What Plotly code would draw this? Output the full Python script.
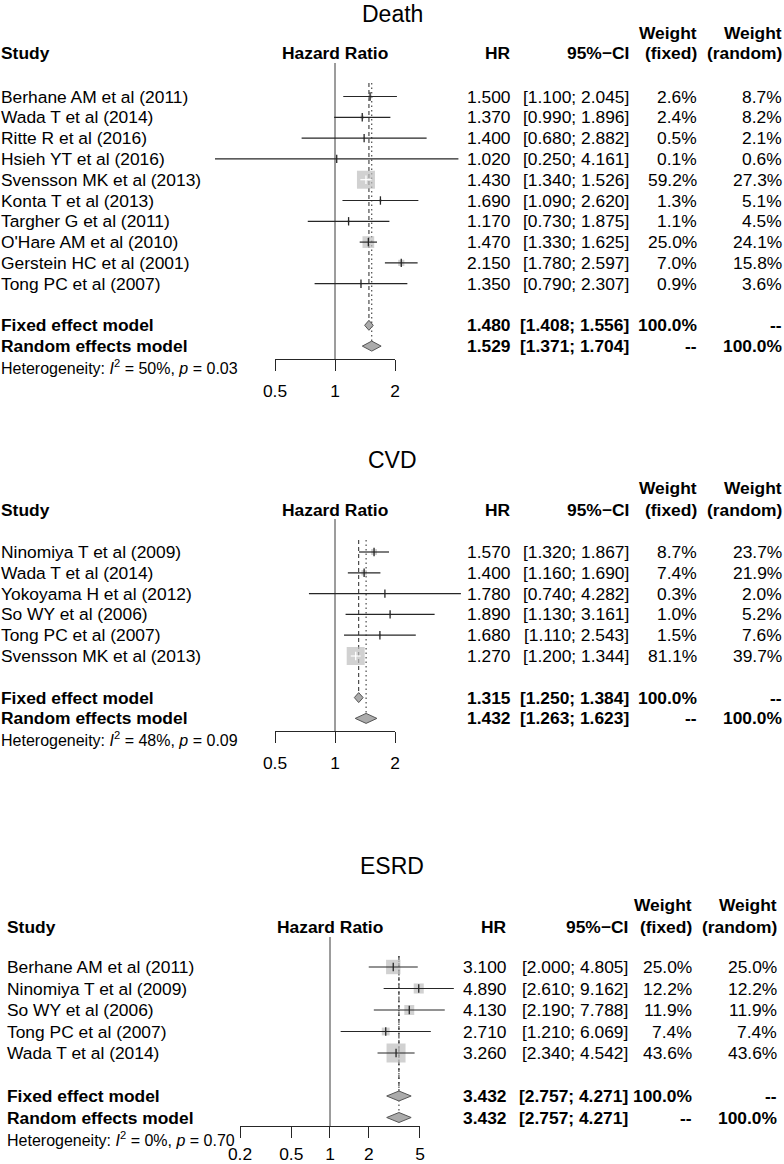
import numpy as np
import plotly.graph_objects as go

W, H = 784, 1164
FONT = "Liberation Sans, Arial, Helvetica, sans-serif"

# ---------------- data ----------------
death_studies = ["Berhane AM et al (2011)", "Wada T et al (2014)", "Ritte R et al (2016)",
                 "Hsieh YT et al (2016)", "Svensson MK et al (2013)", "Konta T et al (2013)",
                 "Targher G et al (2011)", "O'Hare AM et al (2010)", "Gerstein HC et al (2001)",
                 "Tong PC et al (2007)"]
death_hr = [1.500, 1.370, 1.400, 1.020, 1.430, 1.690, 1.170, 1.470, 2.150, 1.350]
death_lo = [1.100, 0.990, 0.680, 0.250, 1.340, 1.090, 0.730, 1.330, 1.780, 0.790]
death_hi = [2.045, 1.896, 2.882, 4.161, 1.526, 2.620, 1.875, 1.625, 2.597, 2.307]
death_wf = [2.6, 2.4, 0.5, 0.1, 59.2, 1.3, 1.1, 25.0, 7.0, 0.9]
death_wr = [8.7, 8.2, 2.1, 0.6, 27.3, 5.1, 4.5, 24.1, 15.8, 3.6]
death_fixed = [1.480, 1.408, 1.556]
death_random = [1.529, 1.371, 1.704]
death_het = ["50%", "0.03"]
death_ticks = [0.5, 1, 2]

cvd_studies = ["Ninomiya T et al (2009)", "Wada T et al (2014)", "Yokoyama H et al (2012)",
               "So WY et al (2006)", "Tong PC et al (2007)", "Svensson MK et al (2013)"]
cvd_hr = [1.570, 1.400, 1.780, 1.890, 1.680, 1.270]
cvd_lo = [1.320, 1.160, 0.740, 1.130, 1.110, 1.200]
cvd_hi = [1.867, 1.690, 4.282, 3.161, 2.543, 1.344]
cvd_wf = [8.7, 7.4, 0.3, 1.0, 1.5, 81.1]
cvd_wr = [23.7, 21.9, 2.0, 5.2, 7.6, 39.7]
cvd_fixed = [1.315, 1.250, 1.384]
cvd_random = [1.432, 1.263, 1.623]
cvd_het = ["48%", "0.09"]
cvd_ticks = [0.5, 1, 2]

esrd_studies = ["Berhane AM et al (2011)", "Ninomiya T et al (2009)", "So WY et al (2006)",
                "Tong PC et al (2007)", "Wada T et al (2014)"]
esrd_hr = [3.100, 4.890, 4.130, 2.710, 3.260]
esrd_lo = [2.000, 2.610, 2.190, 1.210, 2.340]
esrd_hi = [4.805, 9.162, 7.788, 6.069, 4.542]
esrd_wf = [25.0, 12.2, 11.9, 7.4, 43.6]
esrd_wr = [25.0, 12.2, 11.9, 7.4, 43.6]
esrd_fixed = [3.432, 2.757, 4.271]
esrd_random = [3.432, 2.757, 4.271]
esrd_het = ["0%", "0.70"]
esrd_ticks = [0.2, 0.5, 1, 2, 5]

# ---------------- layout of panels (pixels) ----------------
panels = [
    dict(title="Death", studies=death_studies, hr=death_hr, lo=death_lo, hi=death_hi,
         wf=death_wf, wr=death_wr, fixed=death_fixed, random=death_random, het=death_het,
         ticks=death_ticks,
         title_y=14, weight_y=33, header_y=53, row0=96.5, dy=20.8, null_top=63, line_top=83,
         axis_y=359, tick_standoff=5, null_px=335, per_log2=60, label_x=0,
         col_hr=512, col_ci=630, col_wf=698, col_wr=783, sq_max=18),
    dict(title="CVD", studies=cvd_studies, hr=cvd_hr, lo=cvd_lo, hi=cvd_hi,
         wf=cvd_wf, wr=cvd_wr, fixed=cvd_fixed, random=cvd_random, het=cvd_het,
         ticks=cvd_ticks,
         title_y=460, weight_y=488, header_y=510, row0=552, dy=20.8, null_top=519, line_top=540,
         axis_y=731, tick_standoff=5, null_px=335, per_log2=60, label_x=0,
         col_hr=512, col_ci=630, col_wf=698, col_wr=783, sq_max=18),
    dict(title="ESRD", studies=esrd_studies, hr=esrd_hr, lo=esrd_lo, hi=esrd_hi,
         wf=esrd_wf, wr=esrd_wr, fixed=esrd_fixed, random=esrd_random, het=esrd_het,
         ticks=esrd_ticks,
         title_y=866, weight_y=905, header_y=927, row0=967, dy=21.5, null_top=937, line_top=956,
         axis_y=1126, tick_standoff=1, null_px=330, per_log2=38.75, label_x=6,
         col_hr=508, col_ci=629, col_wf=693, col_wr=778, sq_max=19),
]

LINE = "#262626"
SQUARE = "#BEBEBE"
DIAMOND = "#ABABAB"
FS = 17.4

fig = go.Figure()
annotations = []
layout_axes = {}


def ann(x, y, text, anchor="left", size=FS, bold=False):
    annotations.append(dict(
        x=x, y=y, xref="x", yref="y", text=f"<b>{text}</b>" if bold else text,
        showarrow=False, xanchor=anchor, yanchor="middle", borderpad=0,
        font=dict(family=FONT, size=size, color="black")))


for k, P in enumerate(panels):
    xa = f"x{k + 2}"          # data axis (log), full width
    xt = f"x{k + 5}"          # tick axis (log), restricted domain
    per_log10 = P["per_log2"] / np.log10(2)
    r0 = -P["null_px"] / per_log10
    r1 = r0 + W / per_log10
    layout_axes[f"xaxis{k + 2}"] = dict(type="log", range=[r0, r1], domain=[0, 1],
                                        overlaying="x", anchor="y", visible=False,
                                        automargin=False)

    def px(v):
        return P["null_px"] + P["per_log2"] * np.log2(v)

    tmin, tmax = min(P["ticks"]), max(P["ticks"])
    eps = 1e-7
    layout_axes[f"xaxis{k + 5}"] = dict(
        type="log", range=[np.log10(tmin) - eps, np.log10(tmax) + eps],
        domain=[px(tmin) / W, px(tmax) / W], anchor="free", position=1 - P["axis_y"] / H,
        tickvals=P["ticks"], ticktext=[f"{t:g}" for t in P["ticks"]],
        ticks="outside", ticklen=11, tickwidth=1, tickcolor=LINE,
        showline=True, linecolor=LINE, linewidth=1, showgrid=False, zeroline=False,
        ticklabelstandoff=P["tick_standoff"], automargin=False,
        tickfont=dict(family=FONT, size=FS, color="black"))
    # invisible trace to instantiate tick-axis subplot
    fig.add_trace(go.Scatter(x=[1], y=[-50], xaxis=xt, yaxis="y", mode="markers",
                             marker=dict(opacity=0), hoverinfo="skip", showlegend=False))

    n = len(P["studies"])
    rows = [P["row0"] + i * P["dy"] for i in range(n)]
    y_fix = P["row0"] + (n + 1) * P["dy"]
    y_ran = P["row0"] + (n + 2) * P["dy"]
    y_het = P["row0"] + (n + 3) * P["dy"]

    # null line
    fig.add_trace(go.Scatter(x=[1, 1], y=[P["null_top"], P["axis_y"]], xaxis=xa, yaxis="y",
                             mode="lines", line=dict(color="#3a3a3a", width=1),
                             hoverinfo="skip", showlegend=False))
    # fixed (dashed) and random (dotted) lines
    fig.add_trace(go.Scatter(x=[P["fixed"][0]] * 2, y=[P["line_top"], y_fix - 5], xaxis=xa, yaxis="y",
                             mode="lines", line=dict(color=LINE, width=1, dash="4px,3px"),
                             hoverinfo="skip", showlegend=False))
    fig.add_trace(go.Scatter(x=[P["random"][0]] * 2, y=[P["line_top"], y_ran - 5], xaxis=xa, yaxis="y",
                             mode="lines", line=dict(color=LINE, width=1, dash="1.5px,3px"),
                             hoverinfo="skip", showlegend=False))

    # squares (size ∝ sqrt fixed weight)
    wmax = max(P["wf"])
    sizes = [P["sq_max"] * np.sqrt(w / wmax) for w in P["wf"]]
    fig.add_trace(go.Scatter(x=P["hr"], y=rows, xaxis=xa, yaxis="y", mode="markers",
                             marker=dict(symbol="square", size=sizes, color=SQUARE,
                                         line=dict(width=0)),
                             hoverinfo="skip", showlegend=False))
    # CI lines: white if inside square
    for col in ["white", LINE]:
        xs, ys, tx, ty = [], [], [], []
        for i in range(n):
            inside = (px(P["lo"][i]) >= px(P["hr"][i]) - sizes[i] / 2 and
                      px(P["hi"][i]) <= px(P["hr"][i]) + sizes[i] / 2)
            if (col == "white") == inside:
                xs += [P["lo"][i], P["hi"][i], None]
                ys += [rows[i], rows[i], None]
                tx.append(P["hr"][i])
                ty.append(rows[i])
        if xs:
            fig.add_trace(go.Scatter(x=xs, y=ys, xaxis=xa, yaxis="y", mode="lines",
                                     line=dict(color=col, width=1.2),
                                     hoverinfo="skip", showlegend=False))
            fig.add_trace(go.Scatter(x=tx, y=ty, xaxis=xa, yaxis="y", mode="markers",
                                     marker=dict(symbol="line-ns", size=6,
                                                 line=dict(color=col, width=1.3)),
                                     hoverinfo="skip", showlegend=False))
    # diamonds
    for (est, lo, hi), yy in [(P["fixed"], y_fix), (P["random"], y_ran)]:
        hh = 5
        fig.add_trace(go.Scatter(x=[lo, est, hi, est, lo], y=[yy, yy - hh, yy, yy + hh, yy],
                                 xaxis=xa, yaxis="y", mode="lines", fill="toself",
                                 fillcolor=DIAMOND, line=dict(color="#555555", width=1),
                                 hoverinfo="skip", showlegend=False))

    # ---------- text ----------
    ann(W / 2, P["title_y"], P["title"], anchor="center", size=23)
    ann(P["label_x"], P["header_y"], "Study", bold=True)
    ann(P["null_px"], P["header_y"], "Hazard Ratio", anchor="center", bold=True)
    ann(P["col_hr"], P["header_y"], "HR", anchor="right", bold=True)
    ann(P["col_ci"], P["header_y"], "95%\u2212CI", anchor="right", bold=True)
    ann(P["col_wf"], P["weight_y"], "Weight", anchor="right", bold=True)
    ann(P["col_wf"], P["header_y"], "(fixed)", anchor="right", bold=True)
    ann(P["col_wr"], P["weight_y"], "Weight", anchor="right", bold=True)
    ann(P["col_wr"], P["header_y"], "(random)", anchor="right", bold=True)
    for i in range(n):
        ann(P["label_x"], rows[i], P["studies"][i])
        ann(P["col_hr"], rows[i], f"{P['hr'][i]:.3f}", anchor="right")
        ann(P["col_ci"], rows[i], f"[{P['lo'][i]:.3f}; {P['hi'][i]:.3f}]", anchor="right")
        ann(P["col_wf"], rows[i], f"{P['wf'][i]:.1f}%", anchor="right")
        ann(P["col_wr"], rows[i], f"{P['wr'][i]:.1f}%", anchor="right")
    for label, (est, lo, hi), yy, wfx, wrn in [
            ("Fixed effect model", P["fixed"], y_fix, "100.0%", "--"),
            ("Random effects model", P["random"], y_ran, "--", "100.0%")]:
        ann(P["label_x"], yy, label, bold=True)
        ann(P["col_hr"], yy, f"{est:.3f}", anchor="right", bold=True)
        ann(P["col_ci"], yy, f"[{lo:.3f}; {hi:.3f}]", anchor="right", bold=True)
        ann(P["col_wf"], yy, wfx, anchor="right", bold=True)
        ann(P["col_wr"], yy, wrn, anchor="right", bold=True)
    ann(P["label_x"], y_het,
        f"Heterogeneity: <i>I</i><sup>2</sup> = {P['het'][0]}, <i>p</i> = {P['het'][1]}", size=16)

fig.update_layout(
    template="none",
    width=W, height=H, margin=dict(l=0, r=0, t=0, b=0, pad=0, autoexpand=False),
    paper_bgcolor="white", plot_bgcolor="rgba(0,0,0,0)", showlegend=False,
    xaxis=dict(range=[0, W], domain=[0, 1], visible=False, fixedrange=True, automargin=False),
    yaxis=dict(range=[H, 0], domain=[0, 1], visible=False, fixedrange=True, automargin=False),
    annotations=annotations, **layout_axes)

fig.write_html("out.html", config={"displayModeBar": False},
               post_script="document.body.style.margin='0px';document.body.style.overflow='hidden';")
